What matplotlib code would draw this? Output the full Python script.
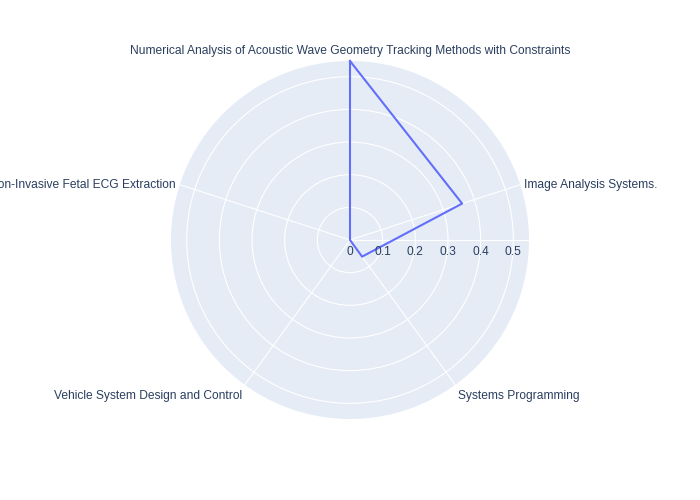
import numpy as np
import matplotlib
matplotlib.use("Agg")
import matplotlib.pyplot as plt

# valori
categorii = [
    "Numerical Analysis of Acoustic Wave Geometry Tracking Methods with Constraints",
    "Image Analysis Systems.",
    "Systems Programming",
    "Vehicle System Design and Control",
    "Non-Invasive Fetal ECG Extraction",
]
valori = [0.548, 0.361, 0.063, 0.0, 0.0]
r_ticks = [0, 0.1, 0.2, 0.3, 0.4, 0.5]

plt.rcParams['font.family'] = ['Liberation Sans', 'DejaVu Sans']
culoare_text = '#2a3f5f'
fs = 8.64  # 12px

fig = plt.figure(figsize=(7, 5), dpi=100)
ax = fig.add_axes([0.2443, 0.162, 0.5114, 0.716], projection='polar')
ax.set_theta_offset(np.pi / 2)
ax.set_theta_direction(-1)
ax.set_facecolor('#E5ECF6')
ax.spines['polar'].set_visible(False)

n = len(categorii)
unghiuri = np.linspace(0, 2 * np.pi, n, endpoint=False)
r_max = max(valori)
ax.set_ylim(0, r_max)

ax.set_xticks(unghiuri)
ax.set_xticklabels([])
ax.set_yticks(r_ticks[1:])
ax.set_yticklabels([])
ax.tick_params(length=0)
ax.grid(True, color='white', linewidth=0.8)

# linia axei radiale (spre dreapta)
ax.plot([np.pi / 2, np.pi / 2], [0, r_max], color='white', linewidth=0.8, zorder=1)

# seria
th = list(unghiuri) + [unghiuri[0]]
vv = valori + [valori[0]]
ax.plot(th, vv, color='#636efa', linewidth=1.5, clip_on=False, zorder=3)

# etichete radiale
for t in r_ticks:
    ax.annotate(f"{t:g}", xy=(np.pi / 2, t), xytext=(0, -12), textcoords='offset pixels',
                ha='center', va='center', fontsize=fs, color=culoare_text, annotation_clip=False)

# etichete categorii
decalaje = [((0, 10), 'center'), ((4, 0), 'left'), ((3, -11), 'left'),
            ((-3, -11), 'right'), ((-4, 0), 'right')]
for ung, nume, (off, ha) in zip(unghiuri, categorii, decalaje):
    ax.annotate(nume, xy=(ung, r_max), xytext=off, textcoords='offset pixels',
                ha=ha, va='center', fontsize=fs, color=culoare_text, annotation_clip=False)

fig.savefig('out.png', dpi=100)
